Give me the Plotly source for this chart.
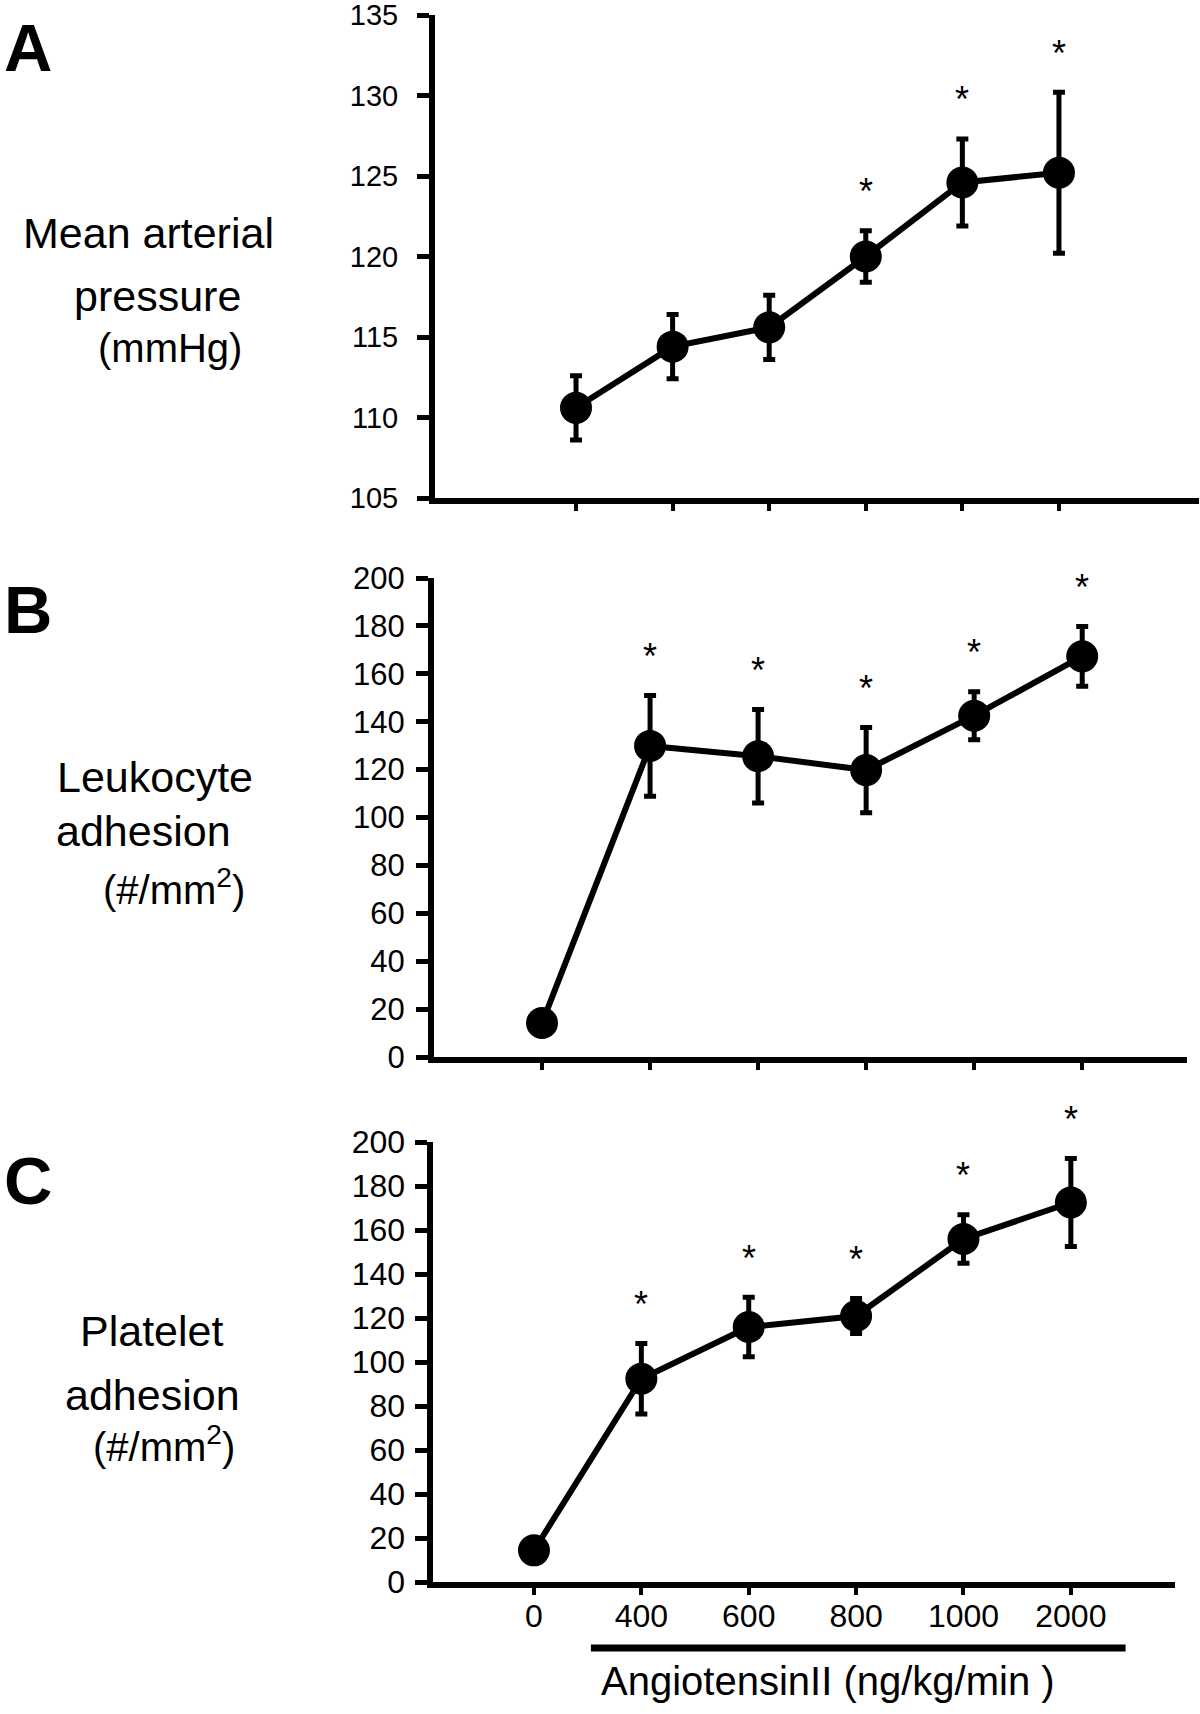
import plotly.graph_objects as go

# ---------------- data ----------------
doses = ["0", "400", "600", "800", "1000", "2000"]
xpos = [0, 1, 2, 3, 4, 5]

map_mean = [110.6, 114.4, 115.6, 120.0, 124.6, 125.2]
map_err = [2.0, 2.0, 2.0, 1.6, 2.7, 5.0]
map_sig = [False, False, False, True, True, True]

leuk_mean = [14.2, 129.9, 125.6, 119.8, 142.5, 167.3]
leuk_err = [5.0, 21.0, 19.5, 17.8, 10.0, 12.5]
leuk_sig = [False, True, True, True, True, True]

plt_mean = [14.4, 92.4, 115.9, 120.9, 155.9, 172.5]
plt_err = [3.0, 16.0, 13.5, 8.0, 11.0, 20.0]
plt_sig = [False, True, True, True, True, True]

# ---------------- figure ----------------
W, H = 1200, 1714
FONT = "Liberation Sans, Arial, sans-serif"
NARROW = "Liberation Sans Narrow, Arial Narrow, Liberation Sans, Arial, sans-serif"


def px_x(p):
    return p / W


def px_y(p):
    return 1 - p / H


fig = go.Figure()

panels = [
    ("x", "y", map_mean, map_err, map_sig),
    ("x2", "y2", leuk_mean, leuk_err, leuk_sig),
    ("x3", "y3", plt_mean, plt_err, plt_sig),
]

for xa, ya, mean, err, sig in panels:
    fig.add_trace(go.Scatter(
        x=xpos, y=mean, xaxis=xa, yaxis=ya,
        mode="lines+markers",
        line=dict(color="black", width=6),
        marker=dict(color="black", size=32),
        error_y=dict(type="data", array=err, visible=True,
                     color="black", thickness=5, width=6),
        showlegend=False, hoverinfo="skip",
    ))

common_x = dict(showline=True, linecolor="black", linewidth=6, ticks="outside",
                ticklen=7, tickwidth=4, tickcolor="black", showgrid=False,
                zeroline=False, tickmode="array", tickvals=xpos, ticktext=doses,
                automargin=False, ticklabeloverflow="allow")
common_y = dict(showline=True, linecolor="black", linewidth=6, ticks="outside",
                ticklen=12, tickwidth=5, tickcolor="black", showgrid=False,
                zeroline=False, automargin=False, ticklabeloverflow="allow")

fig.update_layout(
    template="none",
    width=W, height=H, autosize=False,
    margin=dict(l=0, r=0, t=0, b=0, autoexpand=False),
    paper_bgcolor="white", plot_bgcolor="white",
    font=dict(family=FONT, color="black"),
    xaxis=dict(common_x, domain=[px_x(435), px_x(1199)], range=[-1.46, 6.45],
               anchor="y", showticklabels=False),
    yaxis=dict(common_y, domain=[px_y(498), px_y(15)], range=[105, 135], dtick=5,
               anchor="x", tickfont=dict(size=29, family=FONT), ticklabelstandoff=13),
    xaxis2=dict(common_x, domain=[px_x(434), px_x(1187)], range=[-1.0, 5.97],
                anchor="y2", showticklabels=False),
    yaxis2=dict(common_y, domain=[px_y(1057), px_y(578)], range=[0, 200], dtick=20,
                anchor="x2", tickfont=dict(size=31, family=FONT), ticklabelstandoff=5),
    xaxis3=dict(common_x, domain=[px_x(432.5), px_x(1175)], range=[-0.945, 5.97],
                anchor="y3", showticklabels=True,
                tickfont=dict(size=32, family=FONT), ticklabelstandoff=-6),
    yaxis3=dict(common_y, domain=[px_y(1582), px_y(1142)], range=[0, 200], dtick=20,
                anchor="x3", tickfont=dict(size=32, family=FONT), ticklabelstandoff=3),
)

annotations = []

# significance stars
for xa, ya, mean, err, sig in panels:
    for i, s in enumerate(sig):
        if s:
            annotations.append(dict(
                x=xpos[i], y=mean[i] + err[i], xref=xa, yref=ya,
                text="*", showarrow=False, xanchor="center", yanchor="middle",
                yshift=39, font=dict(size=36, family=FONT, color="black")))

# panel letters
for letter, cy in [("A", 47), ("B", 610), ("C", 1180)]:
    annotations.append(dict(
        x=px_x(2), y=px_y(cy), xref="paper", yref="paper",
        text="<b>%s</b>" % letter, showarrow=False, xanchor="left", yanchor="middle",
        font=dict(size=67, family=NARROW, color="black")))

# y axis titles (each line placed separately)
title_lines = [
    ("Mean arterial", 148.5, 233, 43),
    ("pressure", 157, 296, 43),
    ("(mmHg)", 170, 348, 40),
    ("Leukocyte", 155, 777, 43),
    ("adhesion", 143, 831, 43),
    ("(#/mm<sup>2</sup>)", 174, 887, 40),
    ("Platelet", 151, 1331, 43),
    ("adhesion", 152, 1395, 43),
    ("(#/mm<sup>2</sup>)", 164, 1444, 40),
]
for txt, cx, cy, fs in title_lines:
    annotations.append(dict(
        x=px_x(cx), y=px_y(cy), xref="paper", yref="paper",
        text=txt, showarrow=False, xanchor="center", yanchor="middle",
        font=dict(size=fs, family=FONT, color="black")))

# x axis title
annotations.append(dict(
    x=2.74, y=px_y(1681), xref="x3", yref="paper",
    text="AngiotensinII (ng/kg/min )", showarrow=False,
    xanchor="center", yanchor="middle",
    font=dict(size=40, family=FONT, color="black")))

fig.update_layout(annotations=annotations)

# bracket bar under treated doses
fig.add_shape(type="line", xref="x3", yref="paper",
              x0=0.53, x1=5.51, y0=px_y(1648), y1=px_y(1648),
              line=dict(color="black", width=7))

fig.write_html("out.html",
               config={"displayModeBar": False, "staticPlot": True},
               post_script="document.body.style.margin='0';document.body.style.overflow='hidden';")
